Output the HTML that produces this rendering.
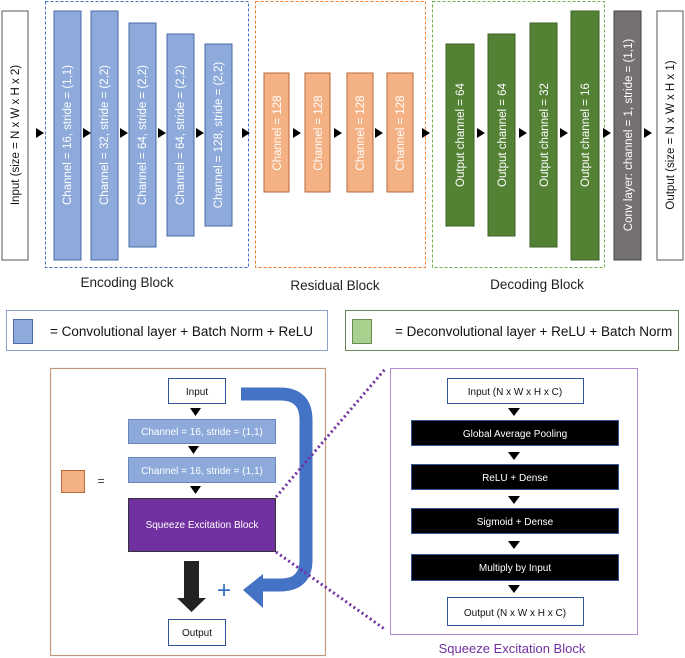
<!DOCTYPE html>
<html><head><meta charset="utf-8"><style>
html,body{margin:0;padding:0;background:#fff;}
svg{display:block;font-family:"Liberation Sans",sans-serif;}
</style></head><body>
<svg width="685" height="658" viewBox="0 0 685 658" xmlns="http://www.w3.org/2000/svg">
<defs><marker id="t" viewBox="0 0 10 10" refX="0" refY="5" markerWidth="1" markerHeight="1"><path d="M0,0L10,5L0,10z"/></marker></defs>
<!-- input -->
<rect x="2" y="11" width="26" height="249" fill="#fff" stroke="#555" stroke-width="1"/>
<text transform="translate(19,135) rotate(-90)" text-anchor="middle" font-size="11.5" fill="#111">Input (size = N x W x H x 2)</text>
<!-- dashed blocks -->
<rect x="45.5" y="1.5" width="203" height="266" fill="none" stroke="#4472c4" stroke-dasharray="3,2"/>
<rect x="255.5" y="1.5" width="170" height="266" fill="none" stroke="#ed7d31" stroke-dasharray="3,2"/>
<rect x="432.5" y="1.5" width="172" height="266" fill="none" stroke="#70ad47" stroke-dasharray="3,2"/>
<g fill="#8eaadb" stroke="#4a6aa8">
<rect x="54" y="11" width="27" height="249"/><rect x="91" y="11" width="27" height="249"/>
<rect x="129" y="23" width="27" height="224"/><rect x="167" y="34" width="27" height="202"/>
<rect x="205" y="44" width="27" height="182"/></g>
<g fill="#fff" font-size="11.5" text-anchor="middle">
<text transform="translate(71,135) rotate(-90)">Channel = 16, stride = (1,1)</text>
<text transform="translate(108,135) rotate(-90)">Channel = 32, stride = (2,2)</text>
<text transform="translate(146,135) rotate(-90)">Channel = 64, stride = (2,2)</text>
<text transform="translate(184,135) rotate(-90)">Channel = 64, stride = (2,2)</text>
<text transform="translate(222,135) rotate(-90)">Channel = 128, stride = (2,2)</text>
</g>
<g fill="#f4b183" stroke="#b86a3a">
<rect x="264" y="73" width="25" height="119"/><rect x="305" y="73" width="25" height="119"/>
<rect x="347" y="73" width="26" height="119"/><rect x="387" y="73" width="26" height="119"/></g>
<g fill="#fff" font-size="11.5" text-anchor="middle">
<text transform="translate(281,133) rotate(-90)">Channel = 128</text>
<text transform="translate(322,133) rotate(-90)">Channel = 128</text>
<text transform="translate(364,133) rotate(-90)">Channel = 128</text>
<text transform="translate(404,133) rotate(-90)">Channel = 128</text>
</g>
<g fill="#548235" stroke="#3d6126">
<rect x="446" y="44" width="28" height="182"/><rect x="488" y="34" width="27" height="202"/>
<rect x="530" y="23" width="27" height="224"/><rect x="571" y="11" width="28" height="249"/></g>
<rect x="614" y="11" width="27" height="249" fill="#767171" stroke="#444"/>
<rect x="657" y="11" width="26" height="249" fill="#fff" stroke="#555"/>
<g fill="#fff" font-size="11.5" text-anchor="middle">
<text transform="translate(464,135) rotate(-90)">Output channel = 64</text>
<text transform="translate(506,135) rotate(-90)">Output channel = 64</text>
<text transform="translate(548,135) rotate(-90)">Output channel = 32</text>
<text transform="translate(589,135) rotate(-90)">Output channel = 16</text>
<text transform="translate(632,135) rotate(-90)">Conv layer: channel = 1, stride = (1,1)</text>
</g>
<text transform="translate(674,135) rotate(-90)" text-anchor="middle" font-size="11.5" fill="#111">Output (size = N x W x H x 1)</text>
<!-- arrows -->
<g fill="#000">
<path d="M36,128l8,5l-8,5z"/><path d="M83,128l8,5l-8,5z"/><path d="M120,128l8,5l-8,5z"/>
<path d="M158,128l8,5l-8,5z"/><path d="M196,128l8,5l-8,5z"/><path d="M242,128l8,5l-8,5z"/>
<path d="M293,128l8,5l-8,5z"/><path d="M334,128l8,5l-8,5z"/><path d="M375,128l8,5l-8,5z"/>
<path d="M422,128l8,5l-8,5z"/><path d="M477,128l8,5l-8,5z"/><path d="M519,128l8,5l-8,5z"/>
<path d="M560,128l8,5l-8,5z"/><path d="M603,128l8,5l-8,5z"/><path d="M644,128l8,5l-8,5z"/>
</g>
<g font-size="13.5" fill="#222" text-anchor="middle">
<text x="127" y="287">Encoding Block</text>
<text x="335" y="290">Residual Block</text>
<text x="537" y="289">Decoding Block</text>
</g>
<!-- legend -->
<rect x="6.5" y="310.5" width="321" height="40" fill="#fff" stroke="#8ea0c8"/>
<rect x="13.5" y="319.5" width="19" height="24" fill="#8eaadb" stroke="#4a6aa8"/>
<text x="50" y="336" font-size="13.5" fill="#111">= Convolutional layer + Batch Norm + ReLU</text>
<rect x="345.5" y="310.5" width="333" height="40" fill="#fff" stroke="#6a8a55"/>
<rect x="352.5" y="319.5" width="19" height="24" fill="#a9d18e" stroke="#6a8a55"/>
<text x="395" y="336" font-size="13.5" fill="#111">= Deconvolutional layer + ReLU + Batch Norm</text>
<!-- bottom left -->
<rect x="50.5" y="368.5" width="275" height="287" fill="#fff" stroke="#c09a80" stroke-width="1.2"/>
<rect x="168.5" y="378.5" width="57" height="25" fill="#fff" stroke="#2f5597"/>
<text x="197" y="395" text-anchor="middle" font-size="10" fill="#111">Input</text>
<rect x="128.5" y="419.5" width="147" height="24" fill="#8eaadb" stroke="#6a86c0"/>
<text x="202" y="435" text-anchor="middle" font-size="10" fill="#fff">Channel = 16, stride = (1,1)</text>
<rect x="128.5" y="457.5" width="147" height="25" fill="#8eaadb" stroke="#6a86c0"/>
<text x="202" y="474" text-anchor="middle" font-size="10" fill="#fff">Channel = 16, stride = (1,1)</text>
<rect x="128.5" y="498.5" width="147" height="53" fill="#7030a0" stroke="#333"/>
<text x="202" y="528" text-anchor="middle" font-size="10" fill="#fff">Squeeze Excitation Block</text>
<g fill="#000"><path d="M190,408h11l-5.5,8z"/><path d="M188,446h11l-5.5,8z"/><path d="M190,486h11l-5.5,8z"/></g>
<rect x="61.5" y="470.5" width="23" height="22" fill="#f4b183" stroke="#b86a3a"/>
<text x="101" y="485" text-anchor="middle" font-size="12" fill="#333">=</text>
<path d="M184,561h15v37h7l-14.5,14l-14.5,-14h7z" fill="#222"/>
<text x="224" y="598" text-anchor="middle" font-size="24" fill="#3a6bbf">+</text>
<rect x="168.5" y="619.5" width="57" height="26" fill="#fff" stroke="#2f5597"/>
<text x="197" y="636" text-anchor="middle" font-size="10" fill="#111">Output</text>
<!-- blue curved arrow -->
<path d="M241,394 H280 Q306,394 306,420 V560 Q306,585 280,585 H262" fill="none" stroke="#4472c4" stroke-width="13"/>
<path d="M263,574 L243,590 L263,608 z" fill="#4472c4"/>
<!-- dotted lines -->
<g stroke="#7030a0" stroke-width="3" stroke-dasharray="2,3" fill="none">
<path d="M276,497 L386,368"/><path d="M276,552 L386,630"/></g>
<!-- right panel -->
<rect x="390.5" y="368.5" width="247" height="266" fill="#fff" stroke="#b48ad0"/>
<rect x="447.5" y="378.5" width="136" height="25" fill="#fff" stroke="#2f5597"/>
<text x="515" y="395" text-anchor="middle" font-size="10" fill="#111">Input (N x W x H x C)</text>
<g fill="#000" stroke="#2f5597">
<rect x="411.5" y="420.5" width="207" height="25"/><rect x="411.5" y="464.5" width="207" height="25"/>
<rect x="411.5" y="508.5" width="207" height="25"/><rect x="411.5" y="554.5" width="207" height="26"/></g>
<g fill="#fff" font-size="10" text-anchor="middle">
<text x="515" y="437">Global Average Pooling</text>
<text x="515" y="481">ReLU + Dense</text>
<text x="515" y="525">Sigmoid + Dense</text>
<text x="515" y="571">Multiply by Input</text>
</g>
<g fill="#000"><path d="M508,408h12l-6,8z"/><path d="M508,452h12l-6,8z"/><path d="M508,496h12l-6,8z"/><path d="M508,541h12l-6,8z"/><path d="M508,585h12l-6,8z"/></g>
<rect x="447.5" y="597.5" width="136" height="28" fill="#fff" stroke="#2f5597"/>
<text x="515" y="616" text-anchor="middle" font-size="10" fill="#111">Output (N x W x H x C)</text>
<text x="512" y="653" text-anchor="middle" font-size="13" fill="#7030a0">Squeeze Excitation Block</text>
</svg>
</body></html>
